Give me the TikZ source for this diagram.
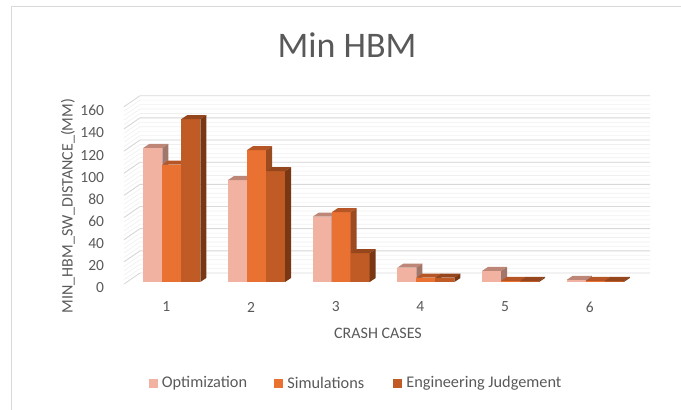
\documentclass[tikz,border=0pt]{standalone}
\usepackage{fontspec}
\setmainfont{Carlito}
\usetikzlibrary{positioning}
\definecolor{txt}{HTML}{595959}
\definecolor{gridmaj}{HTML}{D9D9D9}
\definecolor{gridmin}{HTML}{EFEFEF}
\definecolor{frame1}{HTML}{D9D9D9}
\definecolor{opt1}{HTML}{F1B2A1}
\definecolor{opt2}{HTML}{BE8677}
\definecolor{opt3}{HTML}{A3766A}
\definecolor{sim1}{HTML}{E97132}
\definecolor{sim2}{HTML}{B65627}
\definecolor{sim3}{HTML}{9C4B20}
\definecolor{eng1}{HTML}{C05B26}
\definecolor{eng2}{HTML}{96461D}
\definecolor{eng3}{HTML}{7A3714}

% one 3d bar: left x, value, front, top, side
\newcommand{\crashbar}[5]{%
  \pgfmathsetmacro{\ytop}{282-1.108*#2}
  \fill[#3] (#1,282) rectangle (#1+19,\ytop);
  \fill[#4] (#1,\ytop) -- ++(6,-4) -- ++(19,0) -- ++(-6,4) -- cycle;
  \fill[#5] (#1+19,282) -- (#1+19,\ytop) -- ++(6,-4) -- (#1+25,278) -- cycle;
}

\begin{document}
\begin{tikzpicture}[x=1pt,y=-1pt,font=\fontsize{15.5}{18}\selectfont,text=txt,
  majline/.style={gridmaj,line width=0.9pt},
  minline/.style={gridmin,line width=0.6pt},
  legsq/.style={minimum size=9pt,inner sep=0pt},
  legtxt/.style={inner sep=0pt,font=\fontsize{16.3}{19}\selectfont}]
  \useasboundingbox (0,0) rectangle (681,410);
  % chart frame
  \draw[frame1] (681,6.5) -- (11,6.5) -- (11,410);
  % side and back walls
  \foreach \v in {4,8,...,156} \draw[minline] (124,284-1.108*\v) -- (140,273-1.108*\v) -- (650,273-1.108*\v);
  \foreach \v in {0,20,...,160} {
    \draw[majline] (124,284-1.108*\v) -- (140,273-1.108*\v) -- (650,273-1.108*\v);
    \node[anchor=east] (ylab\v) at (107.5,288-1.108*\v) {\v};
  }
  % bars per crash case
  \foreach \g/\a/\b/\c in {0/121/106/147,1/92/119/100,2/59/63/26,3/13/4/4,4/10/1/1,5/2/1/1} {
    \pgfmathsetmacro{\xa}{143.3+84.7*\g}
    \crashbar{\xa}{\a}{opt1}{opt2}{opt3}
    \pgfmathsetmacro{\xb}{\xa+19}
    \crashbar{\xb}{\b}{sim1}{sim2}{sim3}
    \pgfmathsetmacro{\xc}{\xa+38}
    \crashbar{\xc}{\c}{eng1}{eng2}{eng3}
    \pgfmathsetmacro{\xl}{\xa+23}
    \pgfmathtruncatemacro{\n}{\g+1}
    \node (cat\n) at (\xl,307) {\n};
  }
  % titles
  \node[font=\fontsize{36}{40}\selectfont] (title) at (347,45) {Min HBM};
  \node[rotate=90,font=\fontsize{16}{19}\selectfont] (ytitle) at (68,206) {MIN\_HBM\_SW\_DISTANCE\_(MM)};
  \node[font=\fontsize{16}{19}\selectfont] (xtitle) at (378,333) {CRASH CASES};
  % legend
  \node[legsq,fill=opt1] (lopt) at (153,383) {};
  \node[legtxt,right=4pt of lopt] (topt) {Optimization};
  \node[legsq,fill=sim1] (lsim) at (278.5,383) {};
  \node[legtxt,right=4pt of lsim] (tsim) {Simulations};
  \node[legsq,fill=eng1] (leng) at (397.5,383) {};
  \node[legtxt,right=4pt of leng] (teng) {Engineering Judgement};
\end{tikzpicture}
\end{document}
